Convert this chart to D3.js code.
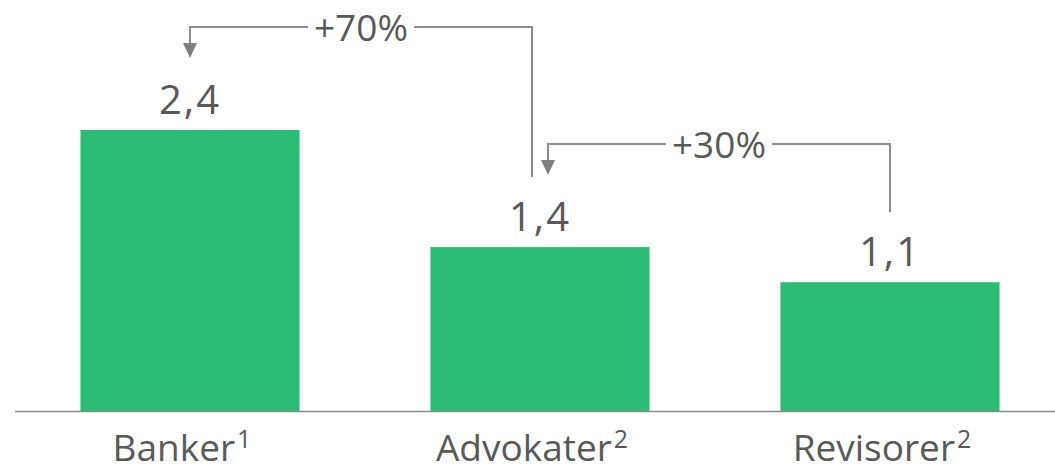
<!DOCTYPE html>
<html lang="en">
    <head>
        <meta charset="utf-8">
        <title>Banker, advokater, revisorer</title>
        <script src="https://d3js.org/d3.v7.min.js"></script>
        <style>
            body { margin: 0; background: #fff; }
            text { font-family: "Open Sans", sans-serif; fill: #595959; }
        </style>
    </head>
    <body>
        <script type="text/javascript">

            //Data
            var categories = ["Banker", "Advokater", "Revisorer"];
            var notes = ["1", "2", "2"];
            var values = [2.4, 1.4, 1.1];
            var valueLabels = ["2,4", "1,4", "1,1"];

            //Change brackets: from bar -> to bar
            var bracketFrom = [1, 2];
            var bracketTo = [0, 1];
            var bracketLabels = ["+70%", "+30%"];

            //Width and height
            var w = 1055;
            var h = 471;
            var baseY = 411;

            var xScale = d3.scaleBand()
                            .domain(d3.range(categories.length))
                            .range([15, 1065])
                            .paddingInner(0.374)
                            .paddingOuter(0.187);

            var yScale = d3.scaleLinear()
                            .domain([0, 2.4])
                            .range([baseY, 130]);

            var svg = d3.select("body")
                        .append("svg")
                        .attr("width", w)
                        .attr("height", h);

            //Bars
            svg.selectAll("rect")
               .data(values)
               .enter()
               .append("rect")
               .attr("x", function(d, i) { return xScale(i); })
               .attr("y", function(d) { return yScale(d); })
               .attr("width", xScale.bandwidth())
               .attr("height", function(d) { return baseY - yScale(d); })
               .attr("fill", "#2bbd74");

            //Baseline
            svg.append("line")
               .attr("x1", 15)
               .attr("x2", w)
               .attr("y1", baseY + 0.5)
               .attr("y2", baseY + 0.5)
               .attr("stroke", "#8c8c8c")
               .attr("stroke-width", 1.5);

            //Value labels
            svg.selectAll(".value")
               .data(values)
               .enter()
               .append("text")
               .attr("class", "value")
               .text(function(d, i) { return valueLabels[i]; })
               .attr("x", function(d, i) { return xScale(i) + xScale.bandwidth() / 2; })
               .attr("y", function(d) { return yScale(d) - 16; })
               .attr("text-anchor", "middle")
               .attr("letter-spacing", "2px")
               .attr("font-size", "40px");

            //Category labels with superscripts
            var cat = svg.selectAll(".cat")
               .data(categories)
               .enter()
               .append("text")
               .attr("class", "cat")
               .attr("x", function(d, i) { return xScale(i) + xScale.bandwidth() / 2 - 8; })
               .attr("y", 461)
               .attr("text-anchor", "middle")
               .attr("font-size", "37px");
            cat.append("tspan").text(function(d) { return d; });
            cat.append("tspan")
               .text(function(d, i) { return notes[i]; })
               .attr("font-size", "25px")
               .attr("dx", 2)
               .attr("dy", -13);

            //Brackets
            var lineColor = "#8c8c8c";
            bracketLabels.forEach(function(label, k) {
                var toX = xScale(bracketTo[k]) + xScale.bandwidth() / 2 + (k === 0 ? 0 : 8);
                var fromX = xScale(bracketFrom[k]) + xScale.bandwidth() / 2 - (k === 0 ? 8 : 0);
                var tipY = yScale(values[bracketTo[k]]) - 72;
                var topY = tipY - 31;
                var endY = yScale(values[bracketFrom[k]]) - 70;
                var midX = (toX + fromX) / 2;

                var t = svg.append("text")
                   .text(label)
                   .attr("x", midX)
                   .attr("y", topY + 14)
                   .attr("text-anchor", "middle")
                   .attr("font-size", "37px");
                var half = t.node().getComputedTextLength() / 2 + 6;

                svg.append("path")
                   .attr("d", "M" + (midX - half) + "," + topY + "H" + toX + "V" + (tipY - 14))
                   .attr("fill", "none")
                   .attr("stroke", lineColor)
                   .attr("stroke-width", 2);
                svg.append("path")
                   .attr("d", "M" + (midX + half) + "," + topY + "H" + fromX + "V" + endY)
                   .attr("fill", "none")
                   .attr("stroke", lineColor)
                   .attr("stroke-width", 2);
                //Arrowhead
                svg.append("path")
                   .attr("d", "M" + (toX - 7) + "," + (tipY - 15) + "L" + (toX + 7) + "," + (tipY - 15) + "L" + toX + "," + tipY + "Z")
                   .attr("fill", "#7f7f7f");
            });

        </script>
    </body>
</html>
